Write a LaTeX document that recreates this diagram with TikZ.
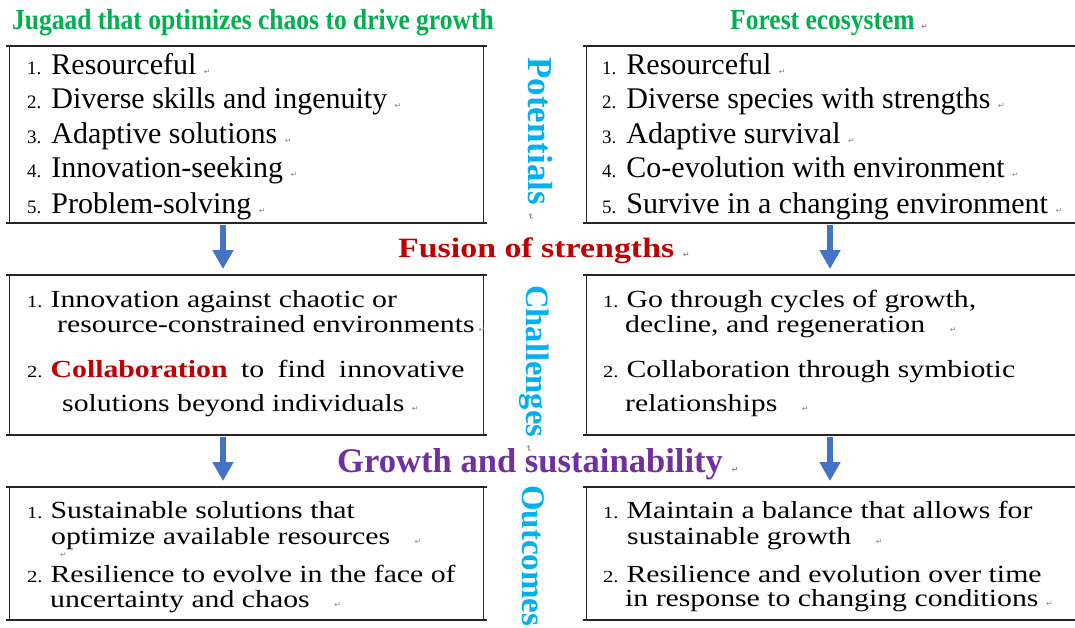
\documentclass[tikz,border=0pt]{standalone}
\usepackage{fontspec}
\setmainfont{Liberation Serif}
\newfontfamily\wideserif[FakeStretch=1.21]{Liberation Serif}
\newfontfamily\narrowserif[FakeStretch=0.88]{Liberation Serif}
\newfontfamily\markfont{DejaVu Sans}
\usetikzlibrary{arrows.meta}
\definecolor{titlegreen}{RGB}{0,176,80}
\definecolor{stagecyan}{RGB}{0,176,240}
\definecolor{fusionred}{RGB}{192,0,0}
\definecolor{growthpurple}{RGB}{112,48,160}
\definecolor{arrowblue}{RGB}{68,114,196}
% paragraph marks and list numbers as the slide shows them
\newcommand{\pmark}{{\markfont\fontsize{8}{8}\selectfont\textcolor{black!45}{↵}}}
\newcommand{\topnum}[1]{{\fontsize{19}{19}\selectfont #1.}\hspace{10pt}}
\newcommand{\lownum}[1]{{\fontsize{17}{17}\selectfont #1.}\hspace{8pt}}
\tikzset{
  boxframe/.style={draw=black!85, line width=0.8pt, inner sep=0pt, anchor=north west},
  boxedge/.style={draw=black!85, line width=1.8pt, shorten <=-3pt, shorten >=-3pt},
  toptext/.style={anchor=base west, inner sep=0pt, font=\fontsize{30}{30}\selectfont},
  lowtext/.style={anchor=base west, inner sep=0pt, font=\wideserif\fontsize{24.6}{24.6}\selectfont},
  headtext/.style={anchor=base west, inner sep=0pt, text=titlegreen, font=\narrowserif\bfseries\fontsize{29}{29}\selectfont},
  stagelabel/.style={anchor=base west, inner sep=0pt, rotate=-90, text=stagecyan, font=\bfseries\fontsize{#1}{#1}\selectfont},
  downarrow/.style={arrowblue, line width=6pt, -{Triangle[length=19pt, width=20pt]}},
}
\begin{document}
\begin{tikzpicture}
% pixel grid of the slide, y runs down
\begin{scope}[x=1pt, y=-1pt]
  \fill[white] (0,0) rectangle (1075,627);
  \useasboundingbox (0,0) rectangle (1075,627);
  % Column titles
  \node[headtext] (jtitle) at (12,29) {Jugaad that optimizes chaos to drive growth};
  \node[headtext] (ftitle) at (730,29) {Forest ecosystem \pmark};
  % Boxes: thin sides, heavy top and bottom rules
  \node[boxframe, minimum width=474pt, minimum height=176pt] (tl) at (9,46) {};
  \node[boxframe, minimum width=500pt, minimum height=176pt] (tr) at (586,46) {};
  \node[boxframe, minimum width=474pt, minimum height=159pt] (ml) at (9,275) {};
  \node[boxframe, minimum width=500pt, minimum height=159pt] (mr) at (586,275) {};
  \node[boxframe, minimum width=474pt, minimum height=132pt] (bl) at (9,487) {};
  \node[boxframe, minimum width=500pt, minimum height=132pt] (br) at (586,487) {};
  \foreach \b in {tl,tr,ml,mr,bl,br} {
    \draw[boxedge] (\b.north west) -- (\b.north east);
    \draw[boxedge] (\b.south west) -- (\b.south east);
  }
  % Potentials
  \node[toptext] (tl1) at (27,74) {\topnum{1}Resourceful \pmark};
  \node[toptext] (tl2) at (27,108) {\topnum{2}Diverse skills and ingenuity \pmark};
  \node[toptext] (tl3) at (27,143) {\topnum{3}Adaptive solutions \pmark};
  \node[toptext] (tl4) at (27,177) {\topnum{4}Innovation-seeking \pmark};
  \node[toptext] (tl5) at (27,213) {\topnum{5}Problem-solving \pmark};
  \node[toptext] (tr1) at (602,74) {\topnum{1}Resourceful \pmark};
  \node[toptext] (tr2) at (602,108) {\topnum{2}Diverse species with strengths \pmark};
  \node[toptext] (tr3) at (602,143) {\topnum{3}Adaptive survival \pmark};
  \node[toptext] (tr4) at (602,177) {\topnum{4}Co-evolution with environment \pmark};
  \node[toptext] (tr5) at (602,213) {\topnum{5}Survive in a changing environment \pmark};
  % Challenges
  \node[lowtext] (ml1) at (27,307) {\lownum{1}Innovation against chaotic or};
  \node[lowtext] (ml1b) at (57,332) {resource-constrained environments\,\pmark};
  \node[lowtext] (ml2) at (27,377) {\lownum{2}\makebox[414pt][s]{\textcolor{fusionred}{\bfseries Collaboration} to find innovative}};
  \node[lowtext] (ml2b) at (62,411) {solutions beyond individuals \pmark};
  \node[lowtext] (mr1) at (603,307) {\lownum{1}Go through cycles of growth,};
  \node[lowtext] (mr1b) at (625,332) {decline, and regeneration\quad\pmark};
  \node[lowtext] (mr2) at (603,377) {\lownum{2}Collaboration through symbiotic};
  \node[lowtext] (mr2b) at (625,411) {relationships\quad\pmark};
  % Outcomes
  \node[lowtext] (bl1) at (27,518) {\lownum{1}Sustainable solutions that};
  \node[lowtext] (bl1b) at (51,544) {optimize available resources\quad\pmark};
  \node[lowtext] (blgap) at (60,557) {\pmark};
  \node[lowtext] (bl2) at (27,582) {\lownum{2}Resilience to evolve in the face of};
  \node[lowtext] (bl2b) at (50,607) {uncertainty and chaos\quad\pmark};
  \node[lowtext] (br1) at (603,518) {\lownum{1}Maintain a balance that allows for};
  \node[lowtext] (br1b) at (627,544) {sustainable growth\quad\pmark};
  \node[lowtext] (br2) at (603,582) {\lownum{2}Resilience and evolution over time};
  \node[lowtext] (br2b) at (625,606) {in response to changing conditions \pmark};
  % Stage names down the middle
  \node[stagelabel=35] (potent) at (528,57) {Potentials \pmark};
  \node[stagelabel=32.6] (chall) at (526,285) {Challenges \pmark};
  \node[stagelabel=33] (outc) at (522,485) {Outcomes};
  % Links between stages
  \node[anchor=base west, inner sep=0pt, text=fusionred, font=\wideserif\bfseries\fontsize{28}{28}\selectfont] (fusion) at (398,257) {Fusion of strengths \pmark};
  \node[anchor=base west, inner sep=0pt, text=growthpurple, font=\bfseries\fontsize{34.6}{34.6}\selectfont] (growth) at (337,472) {Growth and sustainability \pmark};
  \coordinate (leftarr) at (223,0);
  \coordinate (rightarr) at (830,0);
  \draw[downarrow] ([yshift=-2pt]tl.south -| leftarr) -- ([yshift=6pt]ml.north -| leftarr);
  \draw[downarrow] ([yshift=-2pt]tr.south -| rightarr) -- ([yshift=6pt]mr.north -| rightarr);
  \draw[downarrow] ([yshift=-2pt]ml.south -| leftarr) -- ([yshift=6pt]bl.north -| leftarr);
  \draw[downarrow] ([yshift=-2pt]mr.south -| rightarr) -- ([yshift=6pt]br.north -| rightarr);
\end{scope}
\end{tikzpicture}
\end{document}
